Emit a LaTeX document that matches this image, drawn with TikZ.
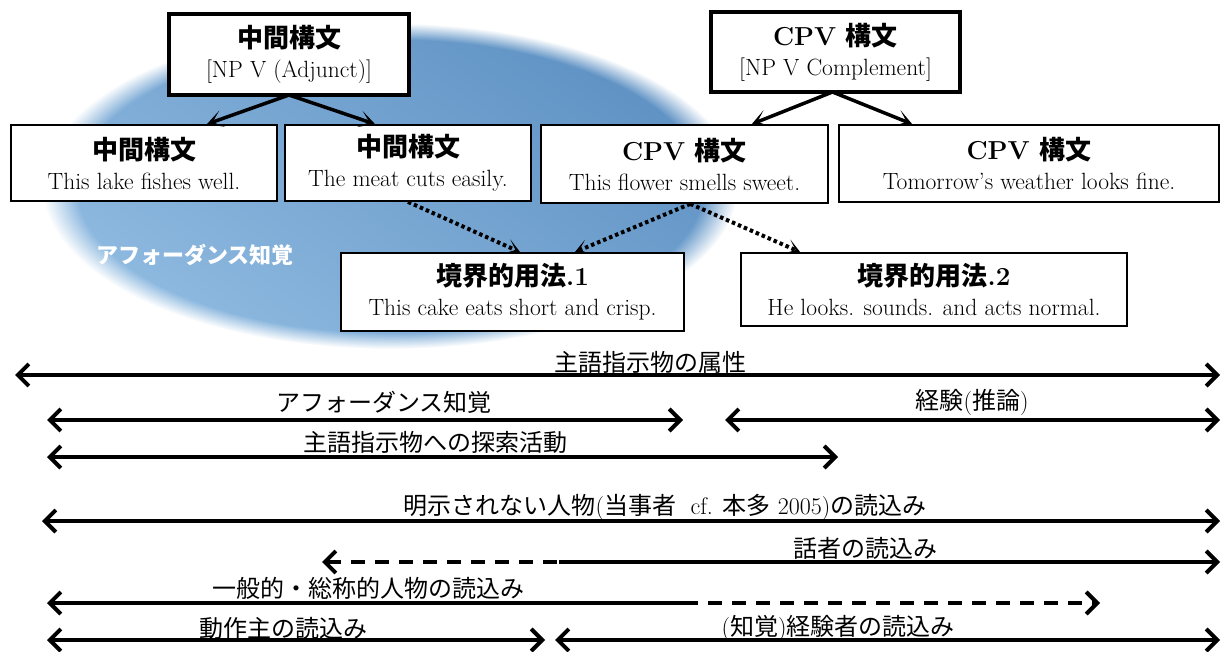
\documentclass[tikz,border=0pt]{standalone}
\usepackage{fontspec}
\newfontfamily\jp{Noto Sans CJK JP}
\usetikzlibrary{arrows.meta,calc,fadings}
\pgfdeclareradialshading{myfuzzshade}{\pgfpointorigin}{color(0pt)=(white); color(22.5pt)=(white); color(25pt)=(black); color(50pt)=(black)}
\pgfdeclarefading{myfuzz}{\pgfuseshading{myfuzzshade}}
\definecolor{ovaldark}{HTML}{5E91C3}
\definecolor{ovallight}{HTML}{8FBAE0}
\newcommand\HdFont{\fontsize{26}{30}\selectfont\bfseries}
\newcommand\SbFont{\fontsize{23.5}{30}\selectfont}
\newcommand\LbFont{\fontsize{24}{28}\selectfont}
\tikzset{
  chev/.tip={Straight Barb[length=11pt,width=22pt]},
  swept/.tip={Stealth[length=16pt,width=17pt,inset=10pt]},
  box/.style={draw, line width=1.8pt, fill=white, align=center, inner sep=0pt, font=\SbFont},
  topbox/.style={box, line width=4pt},
  tree/.style={line width=3.5pt, -swept},
  dots/.style={line width=4pt, dash pattern=on 3.5pt off 3pt, -{Stealth[length=14pt,width=15pt,inset=9pt]}},
  lane/.style={line width=4pt},
  lbl/.style={font=\LbFont, inner sep=0pt},
}
\begin{document}
\begin{tikzpicture}[x=1pt,y=-1pt]
\useasboundingbox (0,0) rectangle (1224,652);
% blue oval
\shade[top color=ovaldark, bottom color=ovallight, shading angle=-35, path fading=myfuzz]
  (390,186) ellipse [x radius=348, y radius=163];
\node[font=\fontsize{22}{26}\selectfont\jp\bfseries, text=white, inner sep=0pt] (aff) at (195,255) {アフォーダンス知覚};

% top boxes
\node[topbox, minimum width=240pt, minimum height=81pt] (A) at (289,54.5)
  {{\HdFont\jp 中間構文}\\{[NP V (Adjunct)]}};
\node[topbox, minimum width=249pt, minimum height=80pt] (B) at (835.5,52)
  {{\HdFont CPV {\jp 構文}}\\{[NP V Complement]}};

% second row
\node[box, minimum width=266pt, minimum height=76pt] (C1) at (144,163)
  {{\HdFont\jp 中間構文}\\This lake fishes well.};
\node[box, minimum width=246pt, minimum height=76pt] (C2) at (408,163)
  {{\HdFont\jp 中間構文}\\The meat cuts easily.};
\node[box, minimum width=287pt, minimum height=78pt] (C3) at (684.5,164)
  {{\HdFont CPV {\jp 構文}}\\This flower smells sweet.};
\node[box, minimum width=380pt, minimum height=77pt] (C4) at (1029,163.5)
  {{\HdFont CPV {\jp 構文}}\\Tomorrow’s weather looks fine.};

% third row
\node[box, minimum width=343pt, minimum height=78pt] (D1) at (512.5,292)
  {{\HdFont{\jp 境界的用法}.1}\\This cake eats short and crisp.};
\node[box, minimum width=386pt, minimum height=73pt] (D2) at (934,289.5)
  {{\HdFont{\jp 境界的用法}.2}\\He looks. sounds. and acts normal.};

% tree arrows
\draw[tree] ([yshift=2pt]A.south) -- ($(C1.north west)!0.735!(C1.north east)$);
\draw[tree] ([yshift=2pt]A.south) -- ($(C2.north west)!0.367!(C2.north east)$);
\draw[tree] ([xshift=-3pt,yshift=2pt]B.south) -- ($(C3.north west)!0.733!(C3.north east)$);
\draw[tree] ([xshift=-3pt,yshift=2pt]B.south) -- ($(C4.north west)!0.194!(C4.north east)$);

% dotted arrows
\coordinate (c3b) at ($(C3.south west)!0.52!(C3.south east)$);
\draw[dots] (C2.south) -- ($(D1.north west)!0.522!(D1.north east)$);
\draw[dots] (c3b) -- ($(D1.north west)!0.681!(D1.north east)$);
\draw[dots] (c3b) -- ($(D2.north west)!0.155!(D2.north east)$);

% bottom scales
\coordinate (l1a) at (15,375);   \coordinate (l1b) at (1220,375);
\coordinate (l2a) at (47,420);   \coordinate (l2b) at (683,420);
\coordinate (l2c) at (725,420);  \coordinate (l2d) at (1220,420);
\coordinate (l3a) at (47,457);   \coordinate (l3b) at (838,457);
\coordinate (l4a) at (42,521);   \coordinate (l4b) at (1220,521);
\coordinate (l5a) at (322,562);  \coordinate (l5m) at (559,562); \coordinate (l5b) at (1220,562);
\coordinate (l6a) at (47,603);   \coordinate (l6m) at (684,603); \coordinate (l6b) at (1100,603);
\coordinate (l7a) at (47,640);   \coordinate (l7b) at (545,640);
\coordinate (l7c) at (555,640);  \coordinate (l7d) at (1220,640);

\draw[lane, chev-chev] (l1a) -- (l1b);
\draw[lane, chev-chev] (l2a) -- (l2b);
\draw[lane, chev-chev] (l2c) -- (l2d);
\draw[lane, chev-chev] (l3a) -- (l3b);
\draw[lane, chev-chev] (l4a) -- (l4b);
\draw[lane, chev-, dash pattern=on 14pt off 10pt] (l5a) -- (l5m);
\draw[lane, -chev] (l5m) -- (l5b);
\draw[lane, chev-] (l6a) -- (l6m);
\draw[lane, -chev, dash pattern=on 14pt off 10pt] (l6m) -- (l6b);
\draw[lane, chev-chev] (l7a) -- (l7b);
\draw[lane, chev-chev] (l7c) -- (l7d);

\node[lbl] (t1) at (650,362) {\jp 主語指示物の属性};
\node[lbl] (t2) at (384,402) {\jp アフォーダンス知覚};
\node[lbl] (t3) at (972,402) {{\jp 経験}({\jp 推論})};
\node[lbl] (t4) at (435,442) {\jp 主語指示物への探索活動};
\node[lbl] (t5) at (665,507) {{\jp 明示されない人物}({\jp 当事者}\ \ cf. {\jp 本多} 2005){\jp の読込み}};
\node[lbl] (t6) at (865,548) {\jp 話者の読込み};
\node[lbl] (t7) at (368,588) {\jp 一般的・総称的人物の読込み};
\node[lbl] (t8) at (283,628) {\jp 動作主の読込み};
\node[lbl] (t9) at (838,628) {({\jp 知覚}){\jp 経験者の読込み}};
\end{tikzpicture}
\end{document}
